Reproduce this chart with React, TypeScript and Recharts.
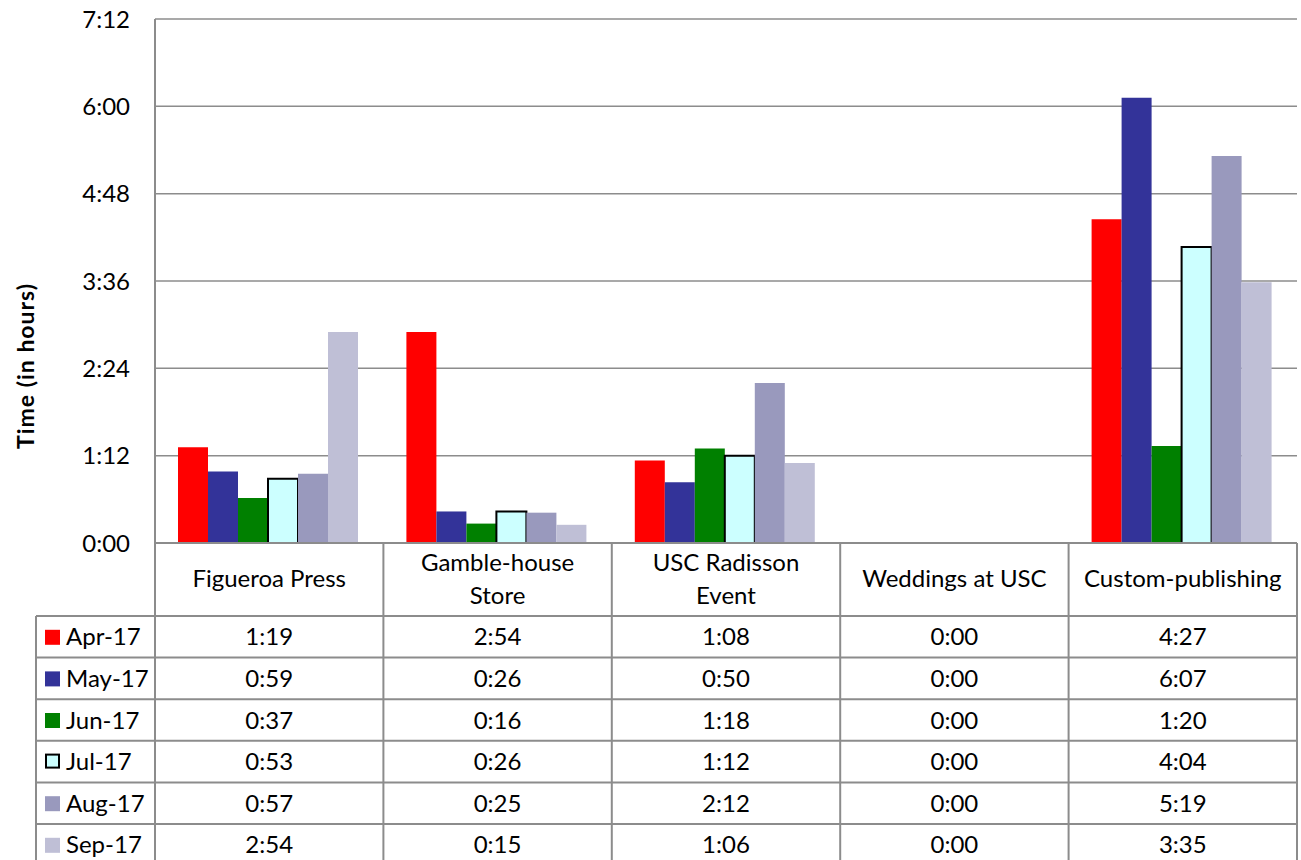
import React from 'react';
import { BarChart, Bar, YAxis, XAxis, CartesianGrid } from 'recharts';

const categories = ['Figueroa Press', 'Gamble-house Store', 'USC Radisson Event', 'Weddings at USC', 'Custom-publishing'];
const categoryLines = [['Figueroa Press'], ['Gamble-house', 'Store'], ['USC Radisson', 'Event'], ['Weddings at USC'], ['Custom-publishing']];

// values in minutes
const apr17 = [79, 174, 68, 0, 267];
const may17 = [59, 26, 50, 0, 367];
const jun17 = [37, 16, 78, 0, 80];
const jul17 = [53, 26, 72, 0, 244];
const aug17 = [57, 25, 132, 0, 319];
const sep17 = [174, 15, 66, 0, 215];

const yTicks = [0, 72, 144, 216, 288, 360, 432];

const series = [
  { key: 'apr', name: 'Apr-17', values: apr17, fill: '#FF0000', stroke: 'none' },
  { key: 'may', name: 'May-17', values: may17, fill: '#333399', stroke: 'none' },
  { key: 'jun', name: 'Jun-17', values: jun17, fill: '#008000', stroke: 'none' },
  { key: 'jul', name: 'Jul-17', values: jul17, fill: '#CCFFFF', stroke: '#000000' },
  { key: 'aug', name: 'Aug-17', values: aug17, fill: '#9999BD', stroke: 'none' },
  { key: 'sep', name: 'Sep-17', values: sep17, fill: '#BFBFD6', stroke: 'none' },
];

const data = categories.map((c, i) => {
  const row: Record<string, any> = { name: c };
  series.forEach((s) => (row[s.key] = s.values[i]));
  return row;
});

const fmt = (m: number) => `${Math.floor(m / 60)}:${String(m % 60).padStart(2, '0')}`;

const W = 1301;
const H = 860;
const plotLeft = 155;
const plotRight = 1297;
const plotTop = 19;
const plotBottom = 543;
const headerBottom = 616;
const rowH = 41.6;
const tableLeft = 36;
const font = 'Lato, Calibri, sans-serif';
const fs = 24;
const grid = '#8c8c8c';

const DataTable = () => {
  const colW = (plotRight - plotLeft) / categories.length;
  const tableBottom = headerBottom + rowH * series.length;
  return (
    <svg width={W} height={H} style={{ position: 'absolute', left: 0, top: 0, pointerEvents: 'none' }}>
      {categories.map((_, i) => (
        <line key={'v' + i} x1={plotLeft + colW * i} x2={plotLeft + colW * i} y1={plotBottom} y2={tableBottom} stroke={grid} strokeWidth={2} />
      ))}
      <line x1={plotRight} x2={plotRight} y1={plotBottom} y2={tableBottom} stroke={grid} strokeWidth={2} />
      <line x1={tableLeft} x2={tableLeft} y1={headerBottom} y2={tableBottom} stroke={grid} strokeWidth={2} />
      <line x1={plotLeft} x2={plotRight} y1={plotBottom} y2={plotBottom} stroke={grid} strokeWidth={2} />
      {series.map((_, r) => (
        <line key={'h' + r} x1={tableLeft} x2={plotRight} y1={headerBottom + rowH * r} y2={headerBottom + rowH * r} stroke={grid} strokeWidth={2} />
      ))}
      {categoryLines.map((lines, i) => (
        <text key={'c' + i} x={plotLeft + colW * (i + 0.5)} textAnchor="middle" fontFamily={font} fontSize={fs} fill="#000">
          {lines.map((l, j) => (
            <tspan key={j} x={plotLeft + colW * (i + 0.5)} y={lines.length === 1 ? 587 : 571 + j * 33}>
              {l}
            </tspan>
          ))}
        </text>
      ))}
      {series.map((s, r) => {
        const cy = headerBottom + rowH * (r + 0.5);
        return (
          <g key={'r' + s.key}>
            <rect
              x={s.stroke !== 'none' ? 46 : 45}
              y={cy - 7}
              width={s.stroke !== 'none' ? 13 : 15}
              height={s.stroke !== 'none' ? 13 : 15}
              fill={s.fill}
              stroke={s.stroke}
              strokeWidth={2}
            />
            <text x={66} y={cy + 8.5} fontFamily={font} fontSize={fs} fill="#000">
              {s.name}
            </text>
            {s.values.map((v, i) => (
              <text key={i} x={plotLeft + colW * (i + 0.5)} y={cy + 8.5} textAnchor="middle" fontFamily={font} fontSize={fs} fill="#000">
                {fmt(v)}
              </text>
            ))}
          </g>
        );
      })}
      <text
        transform={`translate(34, 366) rotate(-90)`}
        textAnchor="middle"
        fontFamily={font}
        fontSize={23}
        fontWeight="bold"
        letterSpacing={1}
        fill="#000"
      >
        Time (in hours)
      </text>
    </svg>
  );
};

export default function App() {
  return (
    <div style={{ position: 'absolute', left: 0, top: 0, width: W, height: H, background: '#fff', overflow: 'hidden' }}>
      <BarChart
        width={W}
        height={plotBottom + 20}
        data={data}
        margin={{ top: plotTop, right: W - plotRight, left: 0, bottom: 20 }}
        barGap={0}
        barCategoryGap={23}
      >
        <CartesianGrid vertical={false} stroke={grid} strokeWidth={1.5} />
        <XAxis dataKey="name" hide />
        <YAxis
          width={plotLeft}
          domain={[0, 432]}
          ticks={yTicks}
          tickFormatter={fmt}
          interval={0}
          axisLine={{ stroke: grid, strokeWidth: 2 }}
          tickLine={false}
          tickSize={0}
          tickMargin={25}
          tick={{ fill: '#000', fontSize: fs, fontFamily: font }}
        />
        {series.map((s) => (
          <Bar
            key={s.key}
            dataKey={s.key}
            name={s.name}
            fill={s.fill}
            stroke={s.stroke === 'none' ? undefined : s.stroke}
            strokeWidth={s.stroke === 'none' ? 0 : 2}
            isAnimationActive={false}
          />
        ))}
      </BarChart>
      <DataTable />
    </div>
  );
}
